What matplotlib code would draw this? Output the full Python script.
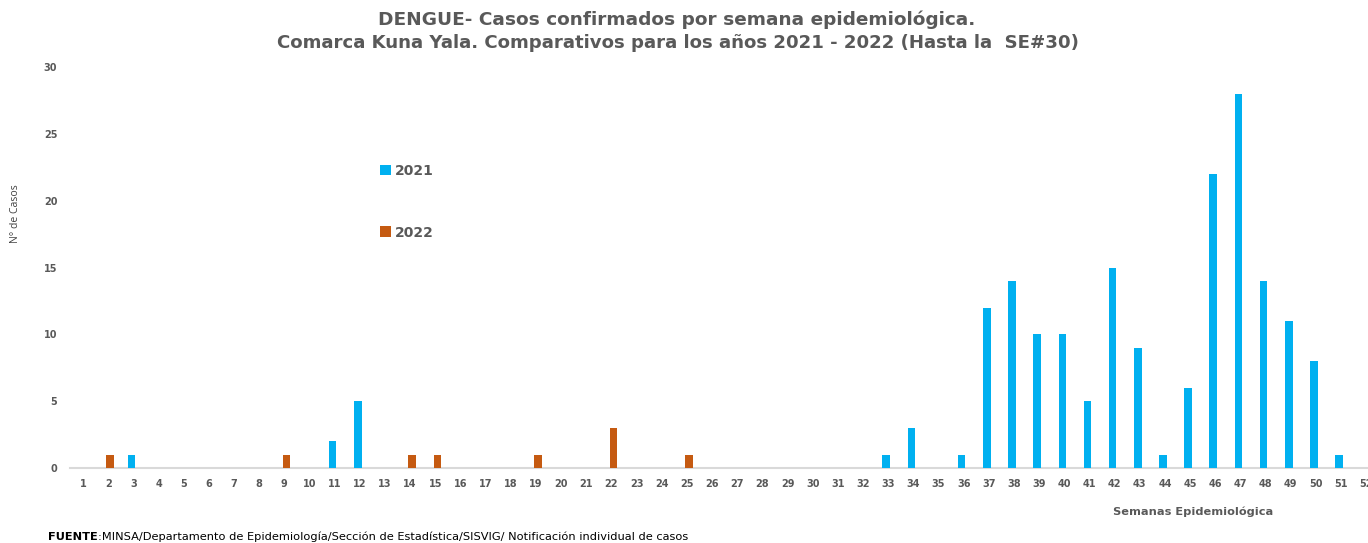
import numpy as np
import matplotlib
matplotlib.use('Agg')
from matplotlib import pyplot as plt

plt.rcParams['font.family'] = ['DejaVu Sans']

# Weeks and cases per epidemiological week
weeks = np.arange(1, 53)
cases_2021 = [0, 0, 1, 0, 0, 0, 0, 0, 0, 0, 2, 5, 0, 0, 0, 0, 0, 0, 0, 0,
              0, 0, 0, 0, 0, 0, 0, 0, 0, 0, 0, 0, 1, 3, 0, 1, 12, 14, 10, 10,
              5, 15, 9, 1, 6, 22, 28, 14, 11, 8, 1, 0]
cases_2022 = [0, 1, 0, 0, 0, 0, 0, 0, 1, 0, 0, 0, 0, 1, 1, 0, 0, 0, 1, 0,
              0, 3, 0, 0, 1, 0, 0, 0, 0, 0, 0, 0, 0, 0, 0, 0, 0, 0, 0, 0,
              0, 0, 0, 0, 0, 0, 0, 0, 0, 0, 0, 0]
years = ['2021', '2022']
colors = ['#00B0F0', '#C55A11']

grey = '#595959'
fig = plt.figure(figsize=(13.68, 5.43), dpi=100)
ax = fig.add_axes([0.0515, 0.1381, 0.9564, 0.7385])

ax.bar(weeks - 0.08, cases_2021, width=0.3, color=colors[0], label=years[0], zorder=3)
ax.bar(weeks + 0.08, cases_2022, width=0.3, color=colors[1], label=years[1], zorder=3)

ax.set_xlim(0.5, 52.5)
ax.set_ylim(0, 30)
ax.set_yticks(range(0, 31, 5))
ax.set_xticks(weeks)
ax.set_xticklabels([str(w) for w in weeks])
for s in ['top', 'right', 'left']:
    ax.spines[s].set_visible(False)
ax.spines['bottom'].set_color('#D9D9D9')
ax.spines['bottom'].set_linewidth(1.5)
ax.tick_params(axis='both', length=0, labelsize=7, labelcolor=grey)
ax.tick_params(axis='x', pad=8)
ax.tick_params(axis='y', pad=9.5)
for lbl in ax.get_xticklabels() + ax.get_yticklabels():
    lbl.set_fontweight('bold')

fig.text(0.4945, 0.964, 'DENGUE- Casos confirmados por semana epidemiológica.',
         ha='center', va='center', fontsize=13.3, fontweight='bold', color=grey)
fig.text(0.4955, 0.920, 'Comarca Kuna Yala. Comparativos para los años 2021 - 2022 (Hasta la  SE#30)',
         ha='center', va='center', fontsize=13.1, fontweight='bold', color=grey)

fig.text(0.011, 0.606, 'N° de Casos', rotation=90, ha='center', va='center',
         fontsize=7.5, color='#404040', family='Open Sans')
fig.text(0.872, 0.057, 'Semanas Epidemiológica', ha='center', va='center',
         fontsize=8.2, fontweight='bold', color=grey)

# source line: bold prefix, then the rest right after it
src = fig.text(0.035, 0.011, 'FUENTE', ha='left', va='center', fontsize=8.2,
               fontweight='bold', color='black')
fig.canvas.draw()
bb = src.get_window_extent().transformed(fig.transFigure.inverted())
fig.text(bb.x1, 0.011, ':MINSA/Departamento de Epidemiología/Sección de Estadística/SISVIG/ Notificación individual de casos',
         ha='left', va='center', fontsize=8.2, color='black')

ax.legend(loc='upper left', bbox_to_anchor=(0.227, 0.79), frameon=False,
          handlelength=0.8, handleheight=0.8, handletextpad=0.3, labelspacing=3.45,
          prop={'size': 10, 'weight': 'bold'}, labelcolor=grey)

fig.savefig('out.png', dpi=100)
